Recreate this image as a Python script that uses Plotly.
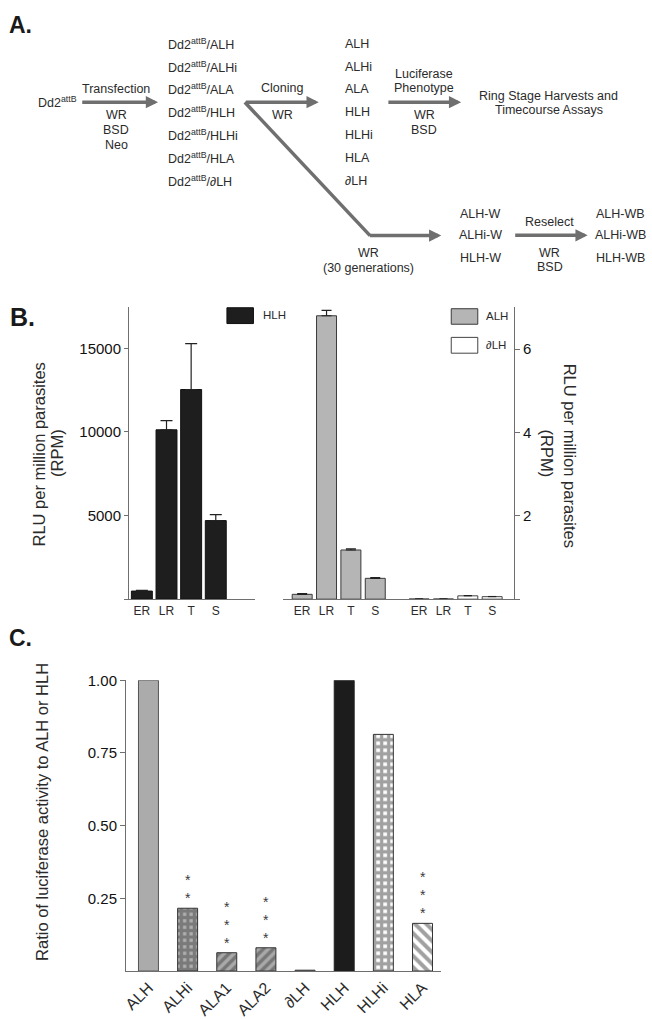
import plotly.graph_objects as go

W, H = 652, 1019
def px(x): return x / W
def py(y): return 1 - y / H

FONT = "Liberation Sans, Arial, sans-serif"
TXT = "#2b2b2b"
AX = "#6f6f6f"

# ---------------- Panel B data ----------------
stages = ["ER", "LR", "T", "S"]
hlh_rpm = [485, 10130, 12540, 4700]
hlh_err = [40, 550, 2740, 360]
alh_rpm = [0.116, 6.80, 1.18, 0.50]
alh_err = [0.02, 0.13, 0.03, 0.02]
dlh_rpm = [0.005, 0.005, 0.08, 0.06]
dlh_err = [0.0, 0.0, 0.008, 0.005]

# ---------------- Panel C data ----------------
constructs = ["ALH", "ALHi", "ALA1", "ALA2", "∂LH", "HLH", "HLHi", "HLA"]
ratio = [1.0, 0.216, 0.063, 0.080, 0.003, 1.0, 0.814, 0.164]
star_counts = [0, 2, 3, 3, 0, 0, 0, 3]

# ---------------- Panel A text ----------------
transfectants = ["ALH", "ALHi", "ALA", "HLH", "HLHi", "HLA", "∂LH"]
wr_clones = ["ALH", "ALHi", "HLH"]

fig = go.Figure()

# B left: HLH
fig.add_trace(go.Bar(
    x=stages, y=hlh_rpm, xaxis="x", yaxis="y", width=0.85,
    marker=dict(color="#1e1e1e", line=dict(color="#111", width=1)),
    error_y=dict(type="data", array=hlh_err, arrayminus=[0] * 4, symmetric=False,
                 color="#222", thickness=1.2, width=6),
    showlegend=False))

# B right: ALH and dLH
gap = 0.8
pos_alh = [i for i in range(len(stages))]
pos_dlh = [i + len(stages) + gap for i in range(len(stages))]
fig.add_trace(go.Bar(
    x=pos_alh, y=alh_rpm, xaxis="x2", yaxis="y2", width=0.82,
    marker=dict(color="#b5b5b5", line=dict(color="#3a3a3a", width=1)),
    error_y=dict(type="data", array=alh_err, arrayminus=[0] * 4, symmetric=False,
                 color="#222", thickness=1.2, width=5),
    showlegend=False))
fig.add_trace(go.Bar(
    x=pos_dlh, y=dlh_rpm, xaxis="x2", yaxis="y2", width=0.82,
    marker=dict(color="#ffffff", line=dict(color="#444", width=1)),
    error_y=dict(type="data", array=dlh_err, arrayminus=[0] * 4, symmetric=False,
                 color="#222", thickness=1, width=4),
    showlegend=False))

# C
bg = ["#ababab", "#b0b0b0", "#a9a9a9", "#a9a9a9", "#444444", "#1c1c1c", "#ffffff", "#ffffff"]
fg = ["#ababab", "#101010", "#222222", "#222222", "#444444", "#1c1c1c", "#0a0a0a", "#111111"]
shapes_p = ["", "+", "/", "/", "", "", "+", "\\"]
sizes_p = [8, 6.5, 7, 7, 8, 8, 7, 8]
solid_p = [0.3, 0.75, 0.5, 0.5, 0.3, 0.3, 0.72, 0.5]
fig.add_trace(go.Bar(
    x=constructs, y=ratio, xaxis="x3", yaxis="y3", width=0.51,
    marker=dict(color=bg,
                line=dict(color=["#555", "#333", "#333", "#333", "#444", "#222", "#333", "#333"], width=1),
                pattern=dict(shape=shapes_p, fgcolor=fg, bgcolor=bg, size=sizes_p, solidity=solid_p)),
    showlegend=False))

tickfont_b = dict(family=FONT, size=15, color="#111")
ann = []
shp = []

def text(x, y, s, size=12.5, xanchor="center", bold=False, angle=0, color=TXT):
    ann.append(dict(x=px(x), y=py(y), xref="paper", yref="paper", text=("<b>%s</b>" % s) if bold else s,
                    showarrow=False, xanchor=xanchor, yanchor="middle", textangle=angle,
                    font=dict(family=FONT, size=size, color=color)))

def arrow(x0, x1, y):
    ann.append(dict(x=px(x1), y=py(y), ax=-(x1 - x0), ay=0, xref="paper", yref="paper",
                    axref="pixel", ayref="pixel", text="", showarrow=True, arrowhead=2,
                    arrowsize=0.7, arrowwidth=3.5, arrowcolor=AX, standoff=0))

# ---- Panel A ----
text(3, 16, "A.", size=23, xanchor="left", bold=True, color="#1a1a1a")
text(31.7, 94.3, "Dd2<sup>attB</sup>", xanchor="left")
arrow(77.7, 155, 94.3)
text(113, 81, "Transfection")
for i, s in enumerate(["WR", "BSD", "Neo"]):
    text(113, 107.7 + 14.8 * i, s)
for i, s in enumerate(transfectants):
    text(163.3, 35 + 23.2 * i, "Dd2<sup>attB</sup>/" + s, xanchor="left")
    text(340.7, 35 + 23.2 * i, s, xanchor="left")
arrow(242.3, 316.7, 94.3)
text(280, 80, "Cloning")
text(280, 107.7, "WR")
arrow(385.7, 460, 94.3)
text(422.7, 65.7, "Luciferase")
text(422.7, 80, "Phenotype")
text(422.7, 107.7, "WR")
text(422.7, 122.3, "BSD")
text(548.3, 88.3, "Ring Stage Harvests and")
text(548.3, 102.7, "Timecourse Assays")
shp.append(dict(type="line", xref="paper", yref="paper", x0=px(242.3), y0=py(94.3),
                x1=px(368.3), y1=py(229.3), line=dict(color=AX, width=3.5)))
arrow(367, 440, 229.3)
text(366.7, 246.7, "WR")
text(366.7, 261.7, "(30 generations)")
for i, s in enumerate(wr_clones):
    yy = [207.3, 228.3, 252.3][i]
    text(479, yy, s + "-W")
    text(620, yy, s + "-WB")
arrow(513.3, 587.3, 229)
text(549, 215.7, "Reselect")
text(549, 246.7, "WR")
text(549, 261, "BSD")

# ---- Panel B ----
text(4, 312, "B.", size=25, xanchor="left", bold=True, color="#1a1a1a")
text(35.5, 450.5, "RLU per million parasites", size=16.5, angle=-90)
text(53.5, 449, "(RPM)", size=16.5, angle=-90)
text(569, 451.5, "RLU per million parasites", size=16.5, angle=90)
text(546.5, 450, "(RPM)", size=16.5, angle=90)
# legend swatches
shp.append(dict(type="rect", xref="paper", yref="paper", x0=px(224.3), x1=px(251), y0=py(302.3), y1=py(318.3),
                fillcolor="#1e1e1e", line=dict(color="#111", width=1)))
text(258.3, 309.5, "HLH", size=11.5, xanchor="left")
shp.append(dict(type="rect", xref="paper", yref="paper", x0=px(450), x1=px(476.7), y0=py(303.3), y1=py(319),
                fillcolor="#b5b5b5", line=dict(color="#3a3a3a", width=1)))
text(483.3, 311, "ALH", size=11.5, xanchor="left")
shp.append(dict(type="rect", xref="paper", yref="paper", x0=px(450), x1=px(476.7), y0=py(332.3), y1=py(348.3),
                fillcolor="#ffffff", line=dict(color="#444", width=1)))
text(483.3, 340.5, "∂LH", size=11.5, xanchor="left")

# ---- Panel C ----
text(3, 636.5, "C.", size=23, xanchor="left", bold=True, color="#1a1a1a")
text(38.75, 813, "Ratio of luciferase activity to ALH or HLH", size=16.5, angle=-90)
for c, v, n in zip(constructs, ratio, star_counts):
    if n:
        ann.append(dict(x=c, y=v, xref="x3", yref="y3", text="<br>".join(["*"] * n),
                        showarrow=False, yanchor="bottom", yshift=0,
                        font=dict(family=FONT, size=14, color="#3a3a3a")))

yB = [py(597.2), py(302)]
fig.update_layout(
    width=W, height=H, margin=dict(l=0, r=0, t=0, b=0),
    paper_bgcolor="white", plot_bgcolor="white",
    font=dict(family=FONT, color=TXT),
    annotations=ann, shapes=shp, showlegend=False,
    xaxis=dict(domain=[px(126), px(253)], anchor="y", type="category", range=[-0.513, 4.61],
               showline=True, linecolor=AX, linewidth=1.3, ticks="", showgrid=False, zeroline=False,
               tickfont=dict(family=FONT, size=12, color=TXT)),
    yaxis=dict(domain=yB, anchor="x", range=[0, 17450], tickvals=[0, 5000, 10000, 15000],
               ticktext=["", "5000", "10000", "15000"], ticks="outside", ticklen=4, tickcolor=AX,
               showline=True, linecolor=AX, linewidth=1.3, showgrid=False, zeroline=False,
               tickfont=tickfont_b),
    xaxis2=dict(domain=[px(281), px(513)], anchor="y2", range=[-0.776, 8.69],
                tickvals=pos_alh + pos_dlh, ticktext=stages + stages,
                showline=True, linecolor=AX, linewidth=1.3, ticks="", showgrid=False, zeroline=False,
                tickfont=dict(family=FONT, size=12, color=TXT)),
    yaxis2=dict(domain=yB, anchor="x2", side="right", range=[0, 7.0], tickvals=[0, 2, 4, 6],
                ticktext=["", "2", "4", "6"], ticks="outside", ticklen=5, tickcolor=AX,
                showline=True, linecolor=AX, linewidth=1.3, showgrid=False, zeroline=False,
                tickfont=tickfont_b),
    xaxis3=dict(domain=[px(122.9), px(439.6)], anchor="y3", type="category", range=[-0.57, 7.47],
                showline=True, linecolor=AX, linewidth=1.3, ticks="", showgrid=False, zeroline=False,
                tickangle=-45, tickfont=dict(family=FONT, size=16, color=TXT)),
    yaxis3=dict(domain=[py(973.5), py(679.3)], anchor="x3", range=[0, 1.0],
                tickvals=[0.25, 0.5, 0.75, 1.0], ticktext=["0.25", "0.50", "0.75", "1.00"],
                ticks="outside", ticklen=5, tickcolor=AX,
                showline=True, linecolor=AX, linewidth=1.3, showgrid=False, zeroline=False,
                tickfont=dict(family=FONT, size=15, color="#111")),
    bargap=0.1,
)

fig.write_html("out.html", config={"displayModeBar": False},
               post_script="document.body.style.margin='0';document.body.style.overflow='hidden';")
